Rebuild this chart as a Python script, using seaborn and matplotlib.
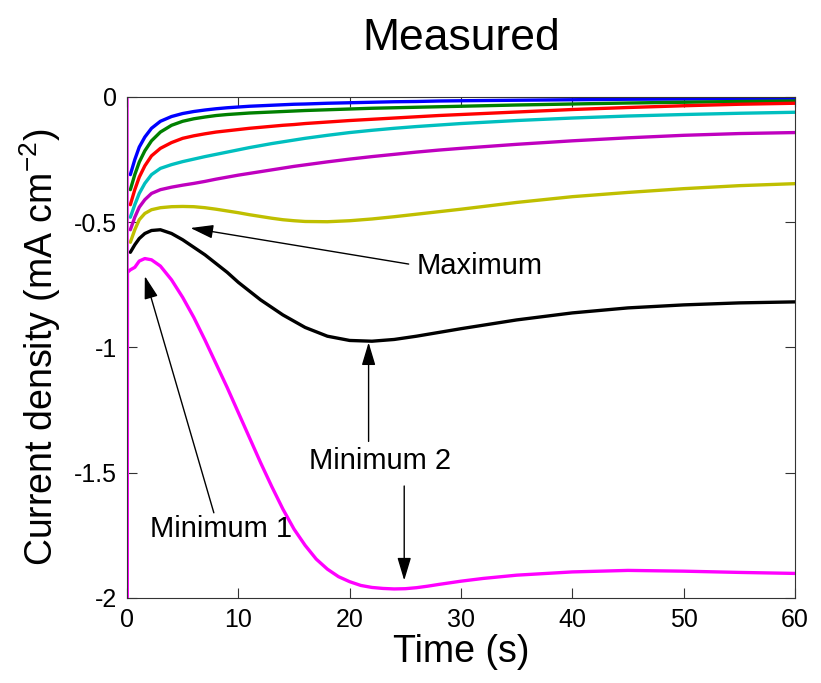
import matplotlib
matplotlib.use("Agg")
import matplotlib.pyplot as plt
import pandas as pd
import seaborn as sns

# Time grid (s) shared by the first seven transients
time_s = [0.3, 0.7, 1.1, 1.6, 2.2, 3, 4, 5, 6, 7, 8, 9, 10, 11, 12, 13, 14, 15, 16,
          18, 20, 22, 24, 26, 28, 30, 35, 40, 45, 50, 55, 60]

# Current density (mA cm^-2)
blue = [-0.31, -0.25, -0.20, -0.16, -0.125, -0.097, -0.078, -0.066, -0.058, -0.052, -0.047,
        -0.043, -0.040, -0.037, -0.035, -0.033, -0.031, -0.029, -0.028, -0.025, -0.023, -0.021,
        -0.019, -0.018, -0.016, -0.015, -0.013, -0.011, -0.009, -0.008, -0.007, -0.006]
green = [-0.37, -0.31, -0.26, -0.215, -0.175, -0.14, -0.113, -0.097, -0.087, -0.080, -0.074,
         -0.070, -0.067, -0.064, -0.062, -0.060, -0.058, -0.056, -0.054, -0.051, -0.048, -0.045,
         -0.043, -0.041, -0.039, -0.037, -0.032, -0.028, -0.024, -0.021, -0.018, -0.016]
red = [-0.43, -0.37, -0.32, -0.275, -0.235, -0.205, -0.182, -0.165, -0.155, -0.147, -0.140,
       -0.135, -0.130, -0.125, -0.121, -0.117, -0.113, -0.110, -0.106, -0.100, -0.094, -0.089,
       -0.084, -0.079, -0.074, -0.070, -0.060, -0.050, -0.042, -0.035, -0.029, -0.025]
cyan = [-0.48, -0.43, -0.385, -0.345, -0.31, -0.285, -0.27, -0.258, -0.248, -0.238, -0.229,
        -0.220, -0.211, -0.202, -0.194, -0.186, -0.179, -0.172, -0.165, -0.153, -0.142, -0.133,
        -0.125, -0.118, -0.112, -0.106, -0.094, -0.084, -0.076, -0.070, -0.065, -0.061]
purple = [-0.53, -0.48, -0.44, -0.41, -0.385, -0.37, -0.36, -0.352, -0.345, -0.337, -0.328,
          -0.320, -0.312, -0.305, -0.298, -0.291, -0.284, -0.277, -0.271, -0.259, -0.248, -0.238,
          -0.229, -0.220, -0.212, -0.205, -0.189, -0.175, -0.163, -0.153, -0.146, -0.142]
yellow = [-0.58, -0.53, -0.49, -0.465, -0.45, -0.442, -0.438, -0.437, -0.438, -0.442, -0.448,
          -0.455, -0.462, -0.470, -0.477, -0.484, -0.490, -0.494, -0.497, -0.498, -0.494, -0.487,
          -0.478, -0.468, -0.458, -0.448, -0.421, -0.398, -0.381, -0.366, -0.354, -0.346]
black = [-0.62, -0.59, -0.565, -0.545, -0.533, -0.530, -0.545, -0.57, -0.60, -0.63, -0.665,
         -0.70, -0.74, -0.775, -0.81, -0.84, -0.87, -0.895, -0.92, -0.955, -0.972, -0.975,
         -0.968, -0.955, -0.94, -0.925, -0.89, -0.862, -0.842, -0.830, -0.822, -0.818]

# last transient: own time base, starting with the charging spike at t = 0
magenta_t = [0.0, 0.02, 0.04, 0.3, 0.7, 1.1, 1.6, 2.2, 3, 4, 5, 6, 7, 8, 9, 10, 11, 12,
             13, 14, 15, 16, 17, 18, 19, 20, 21, 22, 23, 24, 25, 26, 27, 28, 30, 32,
             35, 40, 45, 50, 55, 60]
magenta = [0.0, -2.2, -0.70, -0.69, -0.68, -0.655, -0.645, -0.65, -0.675, -0.73, -0.80,
           -0.88, -0.97, -1.065, -1.16, -1.26, -1.36, -1.46, -1.555, -1.645, -1.725, -1.79,
           -1.845, -1.885, -1.915, -1.935, -1.95, -1.958, -1.962, -1.964, -1.963, -1.959,
           -1.953, -1.946, -1.933, -1.922, -1.909, -1.896, -1.89, -1.893, -1.898, -1.902]

series = {"b": blue, "g": green, "r": red, "c": cyan, "m": purple, "y": yellow, "k": black}
colors = {"b": "#0000ff", "g": "#008000", "r": "#ff0000", "c": "#00bfbf",
          "m": "#bf00bf", "y": "#bfbf00", "k": "#000000", "magenta": "#ff00ff"}

rows = []
for name, vals in series.items():
    for t, j in zip(time_s, vals):
        rows.append({"t": t, "j": j, "run": name})
for t, j in zip(magenta_t, magenta):
    rows.append({"t": t, "j": j, "run": "magenta"})
df = pd.DataFrame(rows)

sns.set_style("ticks")
plt.rcParams["font.family"] = ["Liberation Sans", "DejaVu Sans"]
plt.rcParams["axes.unicode_minus"] = False
plt.rcParams["text.color"] = "black"
plt.rcParams["axes.labelcolor"] = "black"
plt.rcParams["xtick.color"] = "black"
plt.rcParams["ytick.color"] = "black"

fig = plt.figure(figsize=(8.21, 6.83), dpi=100)
ax = fig.add_axes([0.1547, 0.1245, 0.8136, 0.7335])

sns.lineplot(data=df, x="t", y="j", hue="run", palette=colors, linewidth=2.4,
             sort=False, estimator=None, legend=False, ax=ax)

ax.set_xlim(0, 60)
ax.set_ylim(-2, 0)
ax.set_xticks([0, 10, 20, 30, 40, 50, 60])
ax.set_yticks([-2, -1.5, -1, -0.5, 0])
ax.set_yticklabels(["-2", "-1.5", "-1", "-0.5", "0"])
ax.tick_params(direction="in", length=7, width=0.8, labelsize=18, pad=7,
               top=True, right=True, color="#333333")
for s in ax.spines.values():
    s.set_color("#333333")
    s.set_linewidth(0.8)

ax.set_xlabel("Time (s)", fontsize=27, labelpad=2)
ax.set_ylabel("Current density (mA cm$^{\\mathregular{-2}}$)", fontsize=27, labelpad=8)
ax.set_title("Measured", fontsize=32, pad=34)

arrow = dict(arrowstyle="-|>,head_length=1.4,head_width=0.42", color="black", lw=1,
             shrinkA=0, shrinkB=0)
ax.text(31.7, -0.675, "Maximum", fontsize=21, ha="center", va="center")
ax.annotate("", xy=(5.7, -0.523), xytext=(25.3, -0.667), arrowprops=arrow)
ax.text(22.7, -1.455, "Minimum 2", fontsize=21, ha="center", va="center")
ax.annotate("", xy=(21.7, -0.98), xytext=(21.7, -1.375), arrowprops=arrow)
ax.annotate("", xy=(24.9, -1.93), xytext=(24.9, -1.553), arrowprops=arrow)
ax.text(8.4, -1.725, "Minimum 1", fontsize=21, ha="center", va="center")
ax.annotate("", xy=(1.6, -0.715), xytext=(7.8, -1.66), arrowprops=arrow)

fig.savefig("out.png", dpi=100)
